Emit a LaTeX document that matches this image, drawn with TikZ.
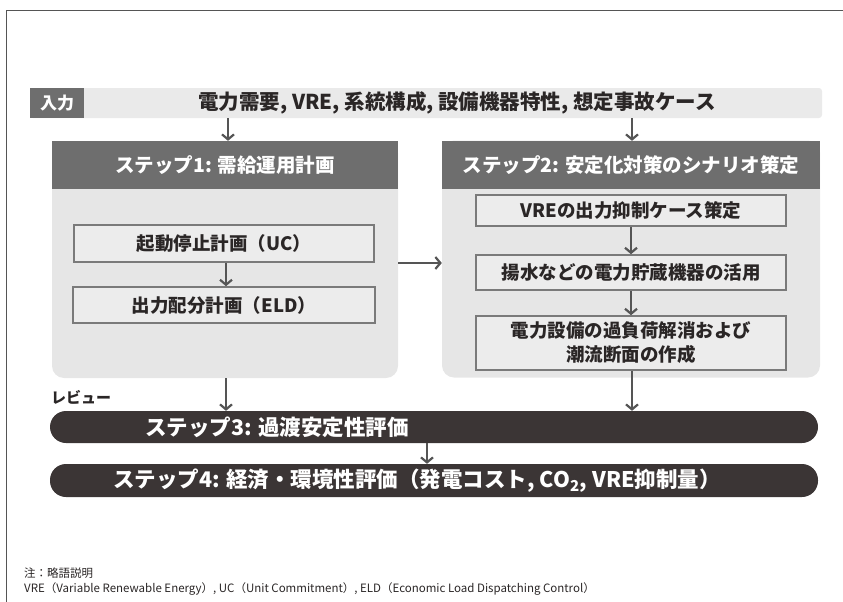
\documentclass[tikz,border=0pt]{standalone}
\usepackage{fontspec}
\setmainfont{Noto Sans CJK JP}
\usetikzlibrary{arrows.meta}
\definecolor{hdr}{HTML}{6E6E6E}
\definecolor{bodyc}{HTML}{E6E6E6}
\definecolor{innerc}{HTML}{ECECEC}
\definecolor{barc}{HTML}{3B3535}
\definecolor{txtc}{HTML}{2A2626}
\definecolor{edgec}{HTML}{7A7A7A}
\definecolor{arrc}{HTML}{555555}
\definecolor{framec}{HTML}{555555}
\tikzset{
  hdrbox/.style={fill=hdr, text=white, inner sep=0pt, font=\fontsize{19.5}{22}\selectfont\bfseries},
  bodybox/.style={fill=bodyc, rounded corners=12pt, inner sep=0pt},
  innerbox/.style={draw=edgec, line width=1.6pt, fill=innerc, inner sep=0pt, text=txtc, align=center, font=\fontsize{18.5}{24}\selectfont\bfseries},
  barbox/.style={fill=barc, rounded corners=16pt, inner sep=0pt, minimum width=768pt},
  bartext/.style={text=white, inner sep=0pt, font=\fontsize{21.5}{24}\selectfont\bfseries},
  flow/.style={draw=arrc, line width=2.2pt, -{Straight Barb[length=5pt,width=12pt]}},
  notetext/.style={text=txtc, inner sep=0pt, anchor=west, font=\fontsize{11.5}{14}\selectfont}
}
\begin{document}
\begin{tikzpicture}[x=1pt,y=-1pt]
\useasboundingbox (0,0) rectangle (843,602);
% frame
\draw[framec, line width=1pt] (6,602) -- (6,11) -- (843,11);
% input bar
\node[fill=bodyc!85!white, rounded corners=3pt, minimum width=792pt, minimum height=30pt, inner sep=0pt] (in) at (426,103) {};
\node[fill=hdr, minimum width=54pt, minimum height=30pt, inner sep=0pt, text=white, font=\fontsize{17}{20}\selectfont\bfseries] (inlabel) at (57,103) {入力};
\node[text=txtc, inner sep=0pt, font=\fontsize{20.5}{24}\selectfont\bfseries] (intext) at (457,103) {電力需要, VRE, 系統構成, 設備機器特性, 想定事故ケース};
% step 1
\node[bodybox, minimum width=346pt, minimum height=237pt] (s1) at (225,259.5) {};
\node[hdrbox, minimum width=346pt, minimum height=48pt] (s1h) at (225,165) {ステップ1: 需給運用計画};
\node[innerbox, minimum width=300pt, minimum height=37pt] (uc) at (224,243.5) {起動停止計画（UC）};
\node[innerbox, minimum width=302pt, minimum height=36pt] (eld) at (224,305) {出力配分計画（ELD）};
% step 2
\node[bodybox, minimum width=378pt, minimum height=237pt] (s2) at (631,259) {};
\node[hdrbox, minimum width=378pt, minimum height=48pt] (s2h) at (631,165) {ステップ2: 安定化対策のシナリオ策定};
\node[innerbox, minimum width=310pt, minimum height=31pt] (vre) at (631,210.5) {VREの出力抑制ケース策定};
\node[innerbox, minimum width=310pt, minimum height=35pt] (pump) at (631,272.5) {揚水などの電力貯蔵機器の活用};
\node[innerbox, minimum width=310pt, minimum height=54pt] (flowc) at (631,343) {電力設備の過負荷解消および\\潮流断面の作成};
% review label
\node[text=txtc, inner sep=0pt, anchor=west, font=\fontsize{15}{18}\selectfont\bfseries] (review) at (51,397) {レビュー};
% step 3 and 4
\node[barbox, minimum height=32pt] (s3) at (434,427) {};
\node[bartext, anchor=west] (s3t) at (145,427) {ステップ3: 過渡安定性評価};
\node[barbox, minimum height=33pt] (s4) at (434,480.5) {};
\node[bartext] (s4t) at (417,480.5) {ステップ4: 経済・環境性評価（発電コスト, CO\textsubscript{2}, VRE抑制量）};
% notes
\node[notetext] (n1) at (24,573) {注：略語説明};
\node[notetext] (n2) at (24,589) {VRE（Variable Renewable Energy）, UC（Unit Commitment）, ELD（Economic Load Dispatching Control）};
% arrows
\draw[flow] (in.south -| 228,0) -- (s1h.north -| 228,0);
\draw[flow] (in.south -| 632,0) -- (s2h.north -| 632,0);
\draw[flow] (uc.south -| 226,0) -- (eld.north -| 226,0);
\draw[flow] (vre) -- (pump);
\draw[flow] (pump) -- (flowc);
\draw[flow] (s1.east |- 0,263) -- (s2.west |- 0,263);
\draw[flow] (s1.south -| 226,0) -- (s3.north -| 226,0);
\draw[flow] (flowc.south -| 632,0) -- (s3.north -| 632,0);
\draw[flow] (s3.south -| 427,0) -- (s4.north -| 427,0);
\end{tikzpicture}
\end{document}
